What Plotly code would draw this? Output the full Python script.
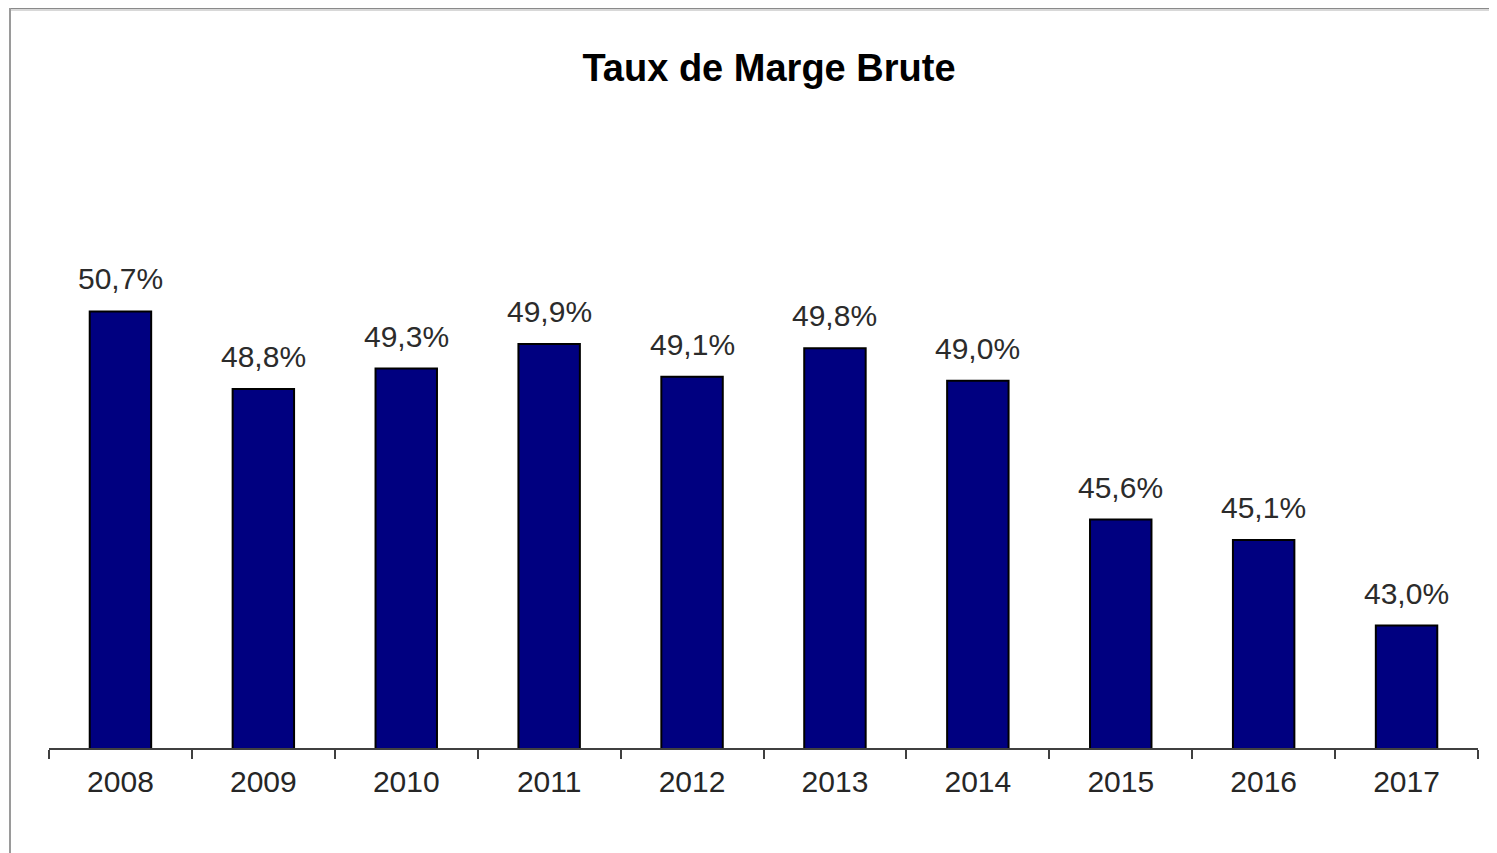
import plotly.graph_objects as go

years = ["2008", "2009", "2010", "2011", "2012", "2013", "2014", "2015", "2016", "2017"]
marge_brute = [50.7, 48.8, 49.3, 49.9, 49.1, 49.8, 49.0, 45.6, 45.1, 43.0]
labels = [f"{v:.1f}%".replace(".", ",") for v in marge_brute]

W, H = 1497, 853
OFF = 8  # page body margin offset
L, R, T, B = 49 - OFF, 19 + OFF, 136 - OFF, 105 + OFF
pw, ph = W - L - R, H - T - B

def px_x(x):
    return (x - OFF - L) / pw

def px_y(y):
    return (H - B - (y - OFF)) / ph

fig = go.Figure(go.Bar(
    x=years,
    y=marge_brute,
    marker=dict(color="#000080", line=dict(color="#000000", width=2)),
    cliponaxis=False,
))

# category axis: annotation x given as category index
annotations = [
    dict(x=i, y=v, text=lab, xref="x", yref="y", showarrow=False,
         xanchor="center", yanchor="bottom", yshift=14,
         font=dict(family="Liberation Sans, Arial, sans-serif", size=30, color="#2b2b2b"))
    for i, (v, lab) in enumerate(zip(marge_brute, labels))
]

fig.update_layout(
    width=W, height=H,
    margin=dict(l=L, r=R, t=T, b=B),
    paper_bgcolor="white", plot_bgcolor="white",
    bargap=0.57,
    showlegend=False,
    annotations=annotations,
    title=dict(text="<b>Taux de Marge Brute</b>", x=(769 - OFF) / W, xanchor="center",
               y=1 - (68 - OFF) / H, yanchor="middle",
               font=dict(family="Liberation Sans, Arial, sans-serif", size=38, color="#000000")),
    xaxis=dict(
        type="category", categoryorder="array", categoryarray=years,
        range=[-0.5, len(years) - 0.5],
        showline=True, linecolor="#404040", linewidth=2,
        ticks="outside", tickson="boundaries", ticklen=9, tickwidth=2, tickcolor="#404040",
        ticklabelstandoff=6,
        tickfont=dict(family="Liberation Sans, Arial, sans-serif", size=30, color="#262626"),
        showgrid=False, zeroline=False,
    ),
    yaxis=dict(visible=False, range=[40, 55], showgrid=False, zeroline=False),
    shapes=[
        dict(type="line", xref="paper", yref="paper", x0=px_x(10), x1=px_x(W + 20),
             y0=px_y(8), y1=px_y(8), line=dict(color="#8a8a8a", width=2)),
        dict(type="line", xref="paper", yref="paper", x0=px_x(10), x1=px_x(W + 20),
             y0=px_y(10), y1=px_y(10), line=dict(color="#d8d8d8", width=2)),
        dict(type="line", xref="paper", yref="paper", x0=px_x(10), x1=px_x(10),
             y0=px_y(H + 20), y1=px_y(8), line=dict(color="#9a9a9a", width=2)),
    ],
)

fig.write_html("out.html")
